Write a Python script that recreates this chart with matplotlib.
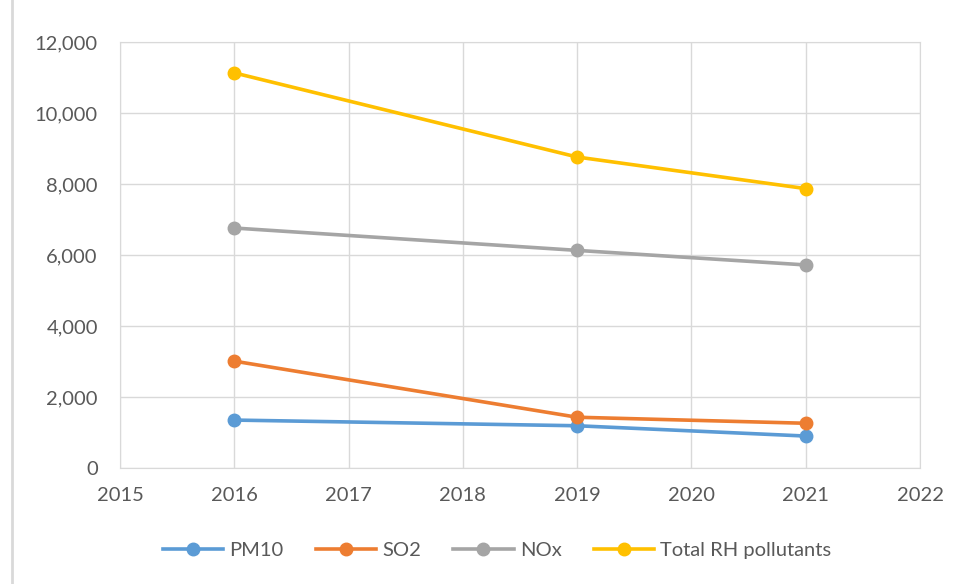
import matplotlib
matplotlib.use("Agg")
import matplotlib.pyplot as plt
from matplotlib.ticker import FuncFormatter
from matplotlib.lines import Line2D

# Datos
anios = [2016, 2019, 2021]
pm10 = [1350, 1190, 900]
so2 = [3010, 1430, 1260]
nox = [6760, 6130, 5720]
total = [11130, 8760, 7870]

series = ['PM10', 'SO2', 'NOx', 'Total RH pollutants']
colores = ['#5B9BD5', '#ED7D31', '#A5A5A5', '#FFC000']

plt.rcParams['font.family'] = ['Lato', 'DejaVu Sans']
gris = '#595959'

fig = plt.figure(figsize=(9.61, 5.84), dpi=100)
ax = fig.add_axes([120/961, 1 - 468/584, 800/961, 426/584])

for datos, nombre, c in zip([pm10, so2, nox, total], series, colores):
    ax.plot(anios, datos, '-o', color=c, lw=2.6, ms=9, label=nombre, zorder=3)

ax.set_xlim(2015, 2022)
ax.set_ylim(0, 12000)
ax.set_xticks(range(2015, 2023))
ax.set_yticks(range(0, 12001, 2000))
ax.yaxis.set_major_formatter(FuncFormatter(lambda v, p: f'{int(v):,}'))
ax.grid(True, color='#D9D9D9', lw=1)
ax.set_axisbelow(True)
for s in ax.spines.values():
    s.set_color('#D9D9D9')
ax.tick_params(length=0, labelsize=14.5, colors=gris)
ax.tick_params(axis='y', pad=16)
ax.tick_params(axis='x', pad=14)

ax.legend(loc='center', bbox_to_anchor=(497/961, 1 - 550/584), bbox_transform=fig.transFigure,
          ncol=4, frameon=False, fontsize=14.5, labelcolor=gris, handlelength=3.0,
          columnspacing=1.6, handletextpad=0.3)

# Borde izquierdo del área del gráfico
fig.add_artist(Line2D([12/961, 12/961], [0, 1], color='#D9D9D9', lw=2, transform=fig.transFigure))

fig.savefig('out.png', dpi=100)
